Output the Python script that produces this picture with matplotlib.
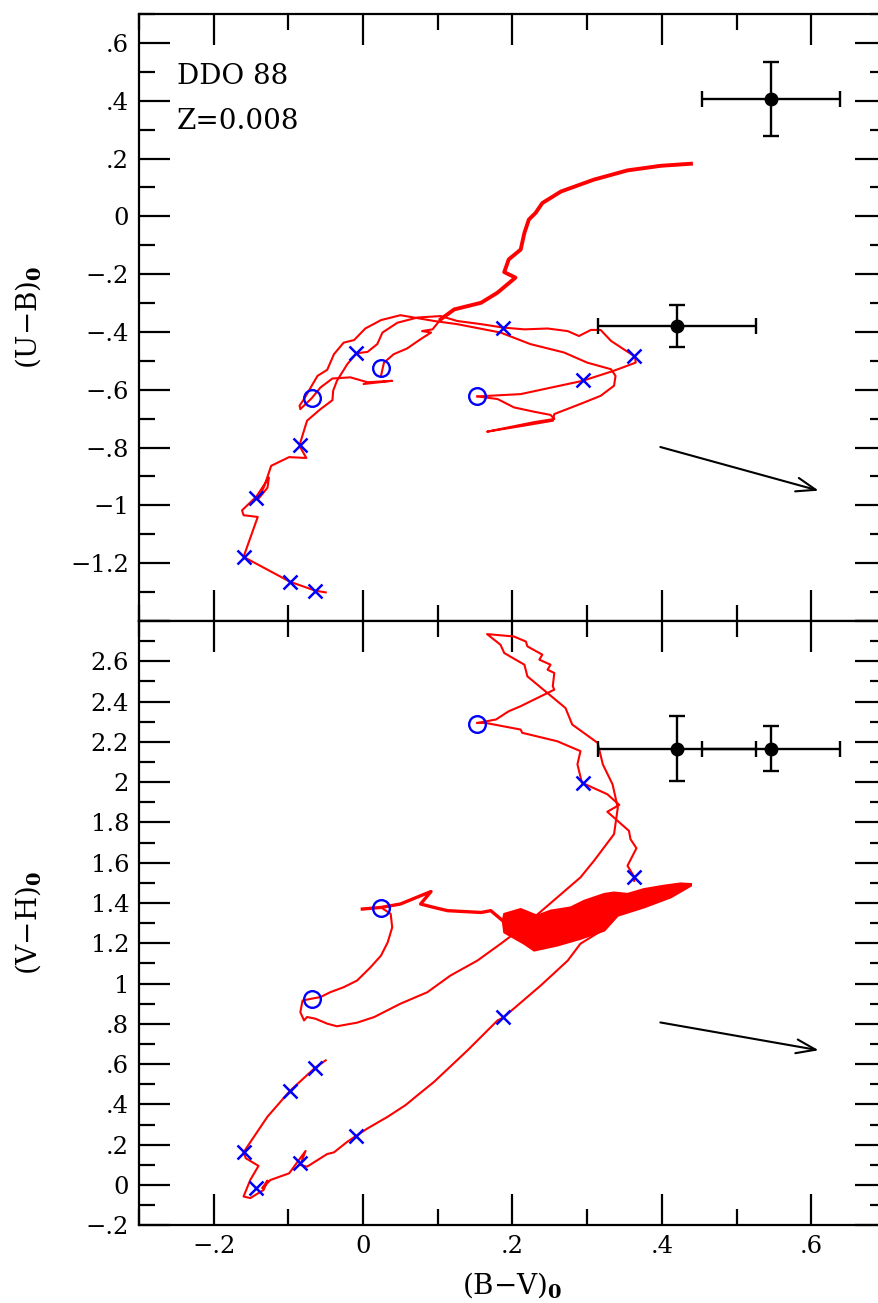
import numpy as np
import matplotlib
matplotlib.use("Agg")
import matplotlib.pyplot as plt
from matplotlib.ticker import MultipleLocator, FuncFormatter

plt.rcParams["font.family"] = ["DejaVu Serif"]
plt.rcParams["mathtext.fontset"] = "dejavuserif"

RED = "#ff0000"
BLUE = "#0000ff"

# ---- starburst model track, (B-V)_0 vs (U-B)_0 ----
top_young = np.array([
    (-0.050, -1.301), (-0.064, -1.295), (-0.098, -1.264), (-0.160, -1.178),
    (-0.141, -1.040), (-0.160, -1.034), (-0.162, -1.017), (-0.143, -0.970),
    (-0.126, -0.904), (-0.128, -0.939), (-0.140, -0.977), (-0.132, -0.932),
    (-0.123, -0.863), (-0.099, -0.833), (-0.076, -0.836), (-0.084, -0.799),
    (-0.085, -0.791), (-0.075, -0.707), (-0.057, -0.667), (-0.041, -0.636),
    (-0.040, -0.603), (-0.035, -0.569), (-0.021, -0.511), (-0.009, -0.474),
    (0.006, -0.469), (0.019, -0.442), (0.026, -0.402), (0.046, -0.368),
    (0.073, -0.350), (0.104, -0.345), (0.126, -0.362), (0.158, -0.373),
    (0.188, -0.385), (0.216, -0.391), (0.247, -0.388), (0.274, -0.397),
    (0.289, -0.414), (0.305, -0.393), (0.318, -0.393), (0.332, -0.431),
    (0.349, -0.460), (0.364, -0.485), (0.365, -0.506), (0.336, -0.534),
    (0.294, -0.569), (0.211, -0.615), (0.153, -0.623),
])
top_loop = np.array([
    (0.153, -0.623), (0.180, -0.632), (0.202, -0.661), (0.229, -0.676),
    (0.251, -0.687), (0.256, -0.701), (0.229, -0.712), (0.166, -0.745),
    (0.211, -0.726), (0.254, -0.707), (0.256, -0.684), (0.291, -0.649),
    (0.318, -0.621), (0.336, -0.586), (0.338, -0.552), (0.332, -0.529),
    (0.300, -0.506), (0.269, -0.471), (0.224, -0.442), (0.184, -0.402),
    (0.126, -0.373), (0.095, -0.362), (0.050, -0.342), (0.024, -0.359),
    (0.003, -0.388), (-0.012, -0.428), (-0.026, -0.437), (-0.039, -0.477),
    (-0.048, -0.531), (-0.061, -0.552), (-0.066, -0.574), (-0.079, -0.632),
    (-0.085, -0.655), (-0.084, -0.667), (-0.069, -0.630), (-0.057, -0.592),
    (-0.041, -0.561), (-0.017, -0.557), (0.006, -0.574), (0.039, -0.569),
    (0.001, -0.580),
])
top_rise = np.array([
    (0.024, -0.552), (0.028, -0.506), (0.041, -0.477), (0.059, -0.457),
    (0.077, -0.425), (0.091, -0.402), (0.079, -0.397), (0.093, -0.391),
    (0.104, -0.356),
])
top_giant = np.array([
    (0.104, -0.356), (0.122, -0.322), (0.158, -0.299), (0.180, -0.264),
    (0.204, -0.212), (0.189, -0.193), (0.195, -0.149), (0.211, -0.115),
    (0.216, -0.057), (0.222, -0.011), (0.231, 0.012), (0.240, 0.046),
    (0.265, 0.086), (0.309, 0.127), (0.354, 0.159), (0.399, 0.175),
    (0.439, 0.182),
])

# ---- same track, (B-V)_0 vs (V-H)_0 ----
bot_young = np.array([
    (-0.050, 0.619), (-0.064, 0.583), (-0.098, 0.467), (-0.128, 0.339),
    (-0.146, 0.240), (-0.160, 0.162), (-0.157, 0.133), (-0.140, 0.095),
    (-0.151, 0.025), (-0.160, -0.057), (-0.151, -0.065), (-0.133, -0.024),
    (-0.128, 0.022), (-0.135, -0.016), (-0.124, 0.025), (-0.099, 0.058),
    (-0.077, 0.169), (-0.084, 0.100), (-0.075, 0.091), (-0.048, 0.154),
    (-0.039, 0.162), (-0.021, 0.215), (-0.009, 0.245), (0.006, 0.281),
    (0.033, 0.339), (0.057, 0.397), (0.073, 0.446), (0.095, 0.512),
    (0.140, 0.669), (0.180, 0.817), (0.188, 0.832), (0.238, 0.991),
    (0.274, 1.114), (0.291, 1.198), (0.323, 1.271),
])
bot_up = np.array([
    (0.363, 1.510), (0.363, 1.530), (0.354, 1.585), (0.366, 1.672),
    (0.358, 1.717), (0.356, 1.758), (0.327, 1.853), (0.343, 1.887),
    (0.327, 1.940), (0.293, 1.997), (0.287, 2.088), (0.291, 2.154),
    (0.260, 2.203), (0.213, 2.245), (0.211, 2.261), (0.164, 2.294),
    (0.153, 2.294),
])
bot_loop = np.array([
    (0.153, 2.294), (0.178, 2.311), (0.195, 2.352), (0.211, 2.377),
    (0.229, 2.410), (0.256, 2.459), (0.254, 2.476), (0.256, 2.542),
    (0.247, 2.558), (0.251, 2.583), (0.236, 2.608), (0.240, 2.633),
    (0.220, 2.674), (0.218, 2.698), (0.202, 2.723), (0.166, 2.735),
    (0.184, 2.682), (0.189, 2.641), (0.216, 2.583), (0.220, 2.525),
    (0.271, 2.368), (0.280, 2.286), (0.314, 2.195), (0.321, 2.088),
    (0.334, 1.989), (0.341, 1.873), (0.336, 1.742), (0.309, 1.609),
    (0.291, 1.527), (0.229, 1.329), (0.202, 1.247), (0.184, 1.197),
    (0.153, 1.114), (0.117, 1.040), (0.086, 0.957), (0.050, 0.900),
    (0.015, 0.834), (-0.008, 0.806), (-0.035, 0.788), (-0.048, 0.801),
    (-0.064, 0.826), (-0.075, 0.834), (-0.079, 0.817), (-0.084, 0.858),
    (-0.081, 0.916), (-0.069, 0.925), (-0.057, 0.933), (-0.044, 0.957),
    (-0.026, 0.982), (-0.008, 1.015), (0.010, 1.081), (0.024, 1.139),
    (0.033, 1.205), (0.039, 1.279), (0.037, 1.346), (0.024, 1.378),
])
bot_wiggle = np.array([
    (-0.001, 1.370), (0.024, 1.378), (0.050, 1.395), (0.077, 1.436),
    (0.091, 1.457), (0.077, 1.395), (0.095, 1.378), (0.113, 1.362),
    (0.158, 1.353), (0.171, 1.362), (0.187, 1.312),
])
bot_band = np.array([
    (0.187, 1.312), (0.189, 1.346), (0.211, 1.370), (0.233, 1.337),
    (0.251, 1.362), (0.278, 1.378), (0.296, 1.411), (0.323, 1.445),
    (0.336, 1.452), (0.354, 1.445), (0.376, 1.469), (0.403, 1.486),
    (0.425, 1.497), (0.439, 1.494), (0.439, 1.486), (0.412, 1.428),
    (0.376, 1.378), (0.341, 1.337), (0.323, 1.263), (0.291, 1.222),
    (0.260, 1.189), (0.229, 1.164), (0.216, 1.197), (0.189, 1.254),
])

# age markers along the track
cross_bv = [-0.064, -0.098, -0.160, -0.143, -0.085, -0.009, 0.188, 0.294, 0.363]
cross_ub = [-1.295, -1.264, -1.178, -0.973, -0.791, -0.474, -0.385, -0.566, -0.483]
cross_vh = [0.583, 0.467, 0.162, -0.013, 0.108, 0.245, 0.832, 1.997, 1.530]
circ_bv = [-0.069, 0.024, 0.153]
circ_ub = [-0.630, -0.526, -0.623]
circ_vh = [0.925, 1.373, 2.291]

# observed colours with errors
obs_bv = [0.546, 0.420]
obs_bv_err = [0.092, 0.106]
obs_ub = [0.406, -0.380]
obs_ub_err = [0.127, 0.072]
obs_vh = [2.167, 2.167]
obs_vh_err = [0.111, 0.159]

# reddening vectors (tail, head)
red_bv = (0.398, 0.610)
red_ub = (-0.798, -0.949)
red_vh = (0.807, 0.669)


def tick_fmt(hidden):
    def f(v, pos):
        if any(abs(v - h) < 1e-6 for h in hidden):
            return ""
        if abs(v) < 1e-9:
            return "0"
        s = f"{abs(v):.1f}".rstrip("0").rstrip(".")
        if s.startswith("0."):
            s = s[1:]
        return ("\u2212" if v < 0 else "") + s
    return FuncFormatter(f)


def style_axes(ax, ymajor, yminor, hidden):
    ax.xaxis.set_major_locator(MultipleLocator(0.2))
    ax.xaxis.set_minor_locator(MultipleLocator(0.1))
    ax.yaxis.set_major_locator(MultipleLocator(ymajor))
    ax.yaxis.set_minor_locator(MultipleLocator(yminor))
    ax.xaxis.set_major_formatter(tick_fmt([]))
    ax.yaxis.set_major_formatter(tick_fmt(hidden))
    ax.tick_params(which="both", direction="in", top=True, right=True,
                   width=1.6, labelsize=17.5, pad=7)
    ax.tick_params(which="major", length=22)
    ax.tick_params(which="minor", length=11.5)
    for sp in ax.spines.values():
        sp.set_linewidth(1.6)


def draw_track(ax, segs, thick=None, wiggle=None, band=None):
    for s in segs:
        ax.plot(s[:, 0], s[:, 1], color=RED, lw=1.5, zorder=2)
    if thick is not None:
        ax.plot(thick[:, 0], thick[:, 1], color=RED, lw=2.8, zorder=2,
                solid_joinstyle="round")
    if wiggle is not None:
        ax.plot(wiggle[:, 0], wiggle[:, 1], color=RED, lw=2.4, zorder=2)
    if band is not None:
        ax.fill(band[:, 0], band[:, 1], color=RED, lw=1.5, zorder=2)


def draw_arrow(ax, ys):
    ax.annotate("", xy=(red_bv[1], ys[1]), xytext=(red_bv[0], ys[0]),
                arrowprops=dict(arrowstyle="->,head_length=0.7,head_width=0.25",
                                color="black", lw=1.5, mutation_scale=20,
                                shrinkA=0, shrinkB=0))


fig = plt.figure(figsize=(8.79, 13.03), dpi=100)
ax1 = fig.add_axes([0.1581, 0.5234, 0.8498, 0.46585])
ax2 = fig.add_axes([0.1581, 0.05963, 0.8498, 0.46378])

# top panel
draw_track(ax1, [top_young, top_loop, top_rise], thick=top_giant)
ax1.plot(cross_bv, cross_ub, "x", color=BLUE, ms=10.5, mew=1.8, zorder=4)
ax1.plot(circ_bv, circ_ub, "o", mfc="none", mec=BLUE, ms=12, mew=1.7, zorder=4)
ax1.errorbar(obs_bv, obs_ub, xerr=obs_bv_err, yerr=obs_ub_err, fmt="o",
             color="black", ms=9, elinewidth=1.7, capsize=6, capthick=1.7,
             zorder=5)
draw_arrow(ax1, red_ub)
ax1.set_xlim(-0.3, 0.7)
ax1.set_ylim(-1.4, 0.7)
style_axes(ax1, 0.2, 0.1, [-1.4])
ax1.tick_params(labelbottom=False)
ax1.text(0.051, 0.8847, "DDO 88", transform=ax1.transAxes, fontsize=20,
         va="baseline")
ax1.text(0.051, 0.8105, "Z=0.008", transform=ax1.transAxes, fontsize=20,
         va="baseline")

# bottom panel
draw_track(ax2, [bot_young, bot_up, bot_loop], wiggle=bot_wiggle,
           band=bot_band)
ax2.plot(cross_bv, cross_vh, "x", color=BLUE, ms=10.5, mew=1.8, zorder=4)
ax2.plot(circ_bv, circ_vh, "o", mfc="none", mec=BLUE, ms=12, mew=1.7, zorder=4)
ax2.errorbar(obs_bv[::-1], obs_vh, xerr=obs_bv_err[::-1], yerr=obs_vh_err[::-1],
             fmt="o", color="black", ms=9, elinewidth=1.7, capsize=6,
             capthick=1.7, zorder=5)
draw_arrow(ax2, red_vh)
ax2.set_xlim(-0.3, 0.7)
ax2.set_ylim(-0.2, 2.8)
style_axes(ax2, 0.2, 0.1, [2.8])

fig.text(28 / 879, 1 - 317 / 1303, "(U\u2212B)$_{\\mathbf{0}}$", rotation=90,
         ha="center", va="center", fontsize=20)
fig.text(28 / 879, 1 - 923 / 1303, "(V\u2212H)$_{\\mathbf{0}}$", rotation=90,
         ha="center", va="center", fontsize=20)
fig.text(512 / 879, 1 - 1285 / 1303, "(B\u2212V)$_{\\mathbf{0}}$",
         ha="center", va="center", fontsize=20)

fig.savefig("out.png", dpi=100)
